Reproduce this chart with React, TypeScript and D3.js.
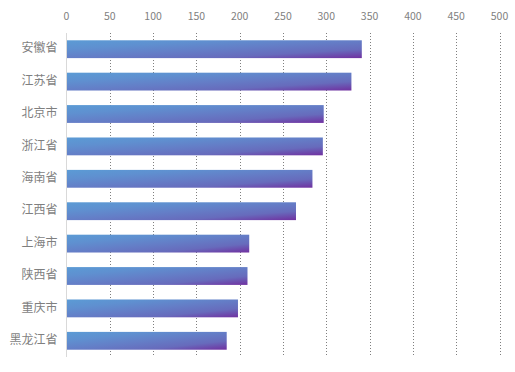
import React from "react";
import * as d3 from "d3";

const provinces = ["安徽省", "江苏省", "北京市", "浙江省", "海南省", "江西省", "上海市", "陕西省", "重庆市", "黑龙江省"];
const scores = [341, 329, 297, 296, 284, 265, 211, 209, 198, 185];
const xTicks = [0, 50, 100, 150, 200, 250, 300, 350, 400, 450, 500];

const width = 515;
const height = 372;
const margin = { top: 33, right: 15.5, bottom: 15, left: 66.5 };

export default function App() {
  const x = d3.scaleLinear().domain([0, 500]).range([margin.left, width - margin.right]);
  const y = d3
    .scaleBand<string>()
    .domain(provinces)
    .range([margin.top, height - margin.bottom])
    .paddingInner(0.45)
    .paddingOuter(0.225);

  const font = "'Microsoft YaHei', 'Noto Sans CJK SC', 'Liberation Sans', sans-serif";

  return (
    <div style={{ position: "absolute", left: 0, top: 0 }}>
      <svg width={width} height={height} style={{ display: "block" }}>
        <defs>
          {/* blue stays on most of the bar, purple only near the bottom-right corner */}
          <linearGradient id="barFill" x1="0" y1="0" x2="1" y2="1">
            <stop offset="0%" stopColor="#5b9bd5" />
            <stop offset="25%" stopColor="#5f90d0" />
            <stop offset="50%" stopColor="#647ec7" />
            <stop offset="75%" stopColor="#676bbc" />
            <stop offset="100%" stopColor="#7030a0" />
          </linearGradient>
        </defs>
        <rect width={width} height={height} fill="#fff" />

        {xTicks.map((t) => (
          <g key={t}>
            {t > 0 && (
              <line
                x1={Math.round(x(t)) + 0.5}
                x2={Math.round(x(t)) + 0.5}
                y1={margin.top}
                y2={height - margin.bottom}
                stroke="#7f7f7f"
                strokeDasharray="1,2"
              />
            )}
            <text
              x={x(t)}
              y={17}
              textAnchor="middle"
              dominantBaseline="middle"
              fontSize={10.5}
              fill="#7f7f7f"
              fontFamily={font}
            >
              {t}
            </text>
          </g>
        ))}

        {provinces.map((p, i) => (
          <g key={p}>
            <rect
              x={x(0)}
              y={y(p)}
              width={x(scores[i]) - x(0)}
              height={y.bandwidth()}
              fill="url(#barFill)"
            />
            <text
              x={x(0) - 9}
              y={(y(p) ?? 0) + y.bandwidth() / 2}
              textAnchor="end"
              dominantBaseline="middle"
              fontSize={12}
              fill="#7f7f7f"
              fontFamily={font}
            >
              {p}
            </text>
          </g>
        ))}

        <line
          x1={x(0)}
          x2={x(0)}
          y1={margin.top}
          y2={height - margin.bottom}
          stroke="#d9d9d9"
          strokeWidth={1}
        />
      </svg>
    </div>
  );
}
